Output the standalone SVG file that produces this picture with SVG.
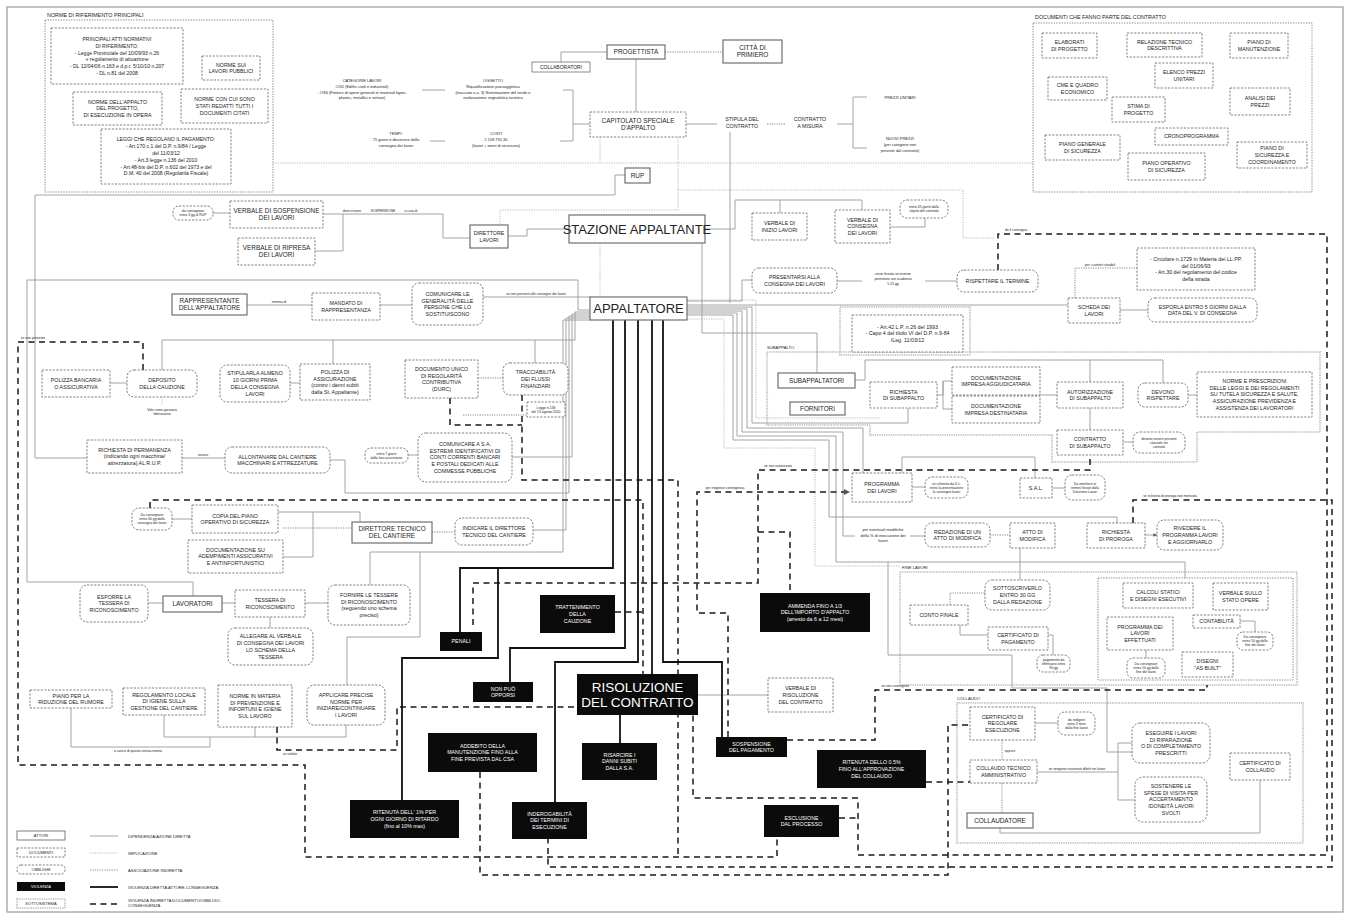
<svg xmlns="http://www.w3.org/2000/svg" width="1353" height="918" viewBox="0 0 1353 918">
<style>
text{font-family:'Liberation Sans',Arial,sans-serif;fill:#242424;text-anchor:middle;font-size:5.3px}
.sm{font-size:3.4px}
.ft{font-size:4px}
.lb{font-size:5.4px;text-anchor:start}
.ll{font-size:4.2px;text-anchor:start}
.w{fill:#fff}
.big{font-size:13px}
.act{font-size:6.4px}
.a{fill:#fff;stroke:#707070;stroke-width:1.2}
.d{fill:#fff;stroke:#4a4a4a;stroke-width:.7;stroke-dasharray:2.2 1.4}
.o{fill:#fff;stroke:#4a4a4a;stroke-width:.7;stroke-dasharray:2.2 1.4}
.v{fill:#0b0b0b}
.s{fill:none;stroke:#c8c8c8;stroke-width:2.2;stroke-dasharray:1 .8}
.g{fill:none;stroke:#555;stroke-width:.7;stroke-dasharray:1.3 1.3}
.c{fill:none;stroke:#9a9a9a;stroke-width:.9}
.i{fill:none;stroke:#b3b3b3;stroke-width:.9;stroke-dasharray:1.2 1.2}
.x{fill:none;stroke:#555;stroke-width:.7;stroke-dasharray:1.2 1.2}
.k{fill:none;stroke:#111;stroke-width:1.8}
.q{fill:none;stroke:#1a1a1a;stroke-width:1.5;stroke-dasharray:6 4.5}
</style>
<defs>
<marker id="ar" viewBox="0 0 6 6" refX="6" refY="3" markerWidth="4" markerHeight="4" orient="auto"><path d="M0,0L6,3L0,6z" fill="#555"/></marker>
</defs>
<rect x="7" y="7" width="1336" height="905" fill="#fff" stroke="#9a9a9a" stroke-width="1.2"/>

<g id="gruppi">
<text class="lb" x="47" y="17">NORME DI RIFERIMENTO PRINCIPALI</text>
<rect class="g" x="45" y="20" width="228" height="172"/>
<text class="lb" x="1035" y="19">DOCUMENTI CHE FANNO PARTE DEL CONTRATTO</text>
<rect class="g" x="1033" y="23" width="279" height="169"/>
<rect class="s" x="840" y="307" width="130" height="48"/>
<polygon class="s" points="767,352 1320,352 1320,432 1197,432 1197,462 1052,462 1052,435 870,435 870,425 767,425"/>
<text class="ll" x="767" y="349">SUBAPPALTO</text>
<rect class="s" x="900" y="572" width="397" height="113"/>
<rect class="g" x="1098" y="578" width="195" height="102"/>
<text class="ll" x="902" y="569">FINE LAVORI</text>
<rect class="s" x="957" y="703" width="346" height="140"/>
<text class="ll" x="957" y="700">COLLAUDO</text>
</g>

<g id="connettori">
<path class="i" d="M273,163H1033"/>
<path class="i" d="M600,137V163"/>
<path class="x" d="M665,52H723"/>
<path class="x" d="M767,124H785"/>
<path class="i" d="M678,137V210H500V225"/>
<path class="i" d="M678,190H963V238H995"/>
<path class="i" d="M600,243V297"/>
<path class="i" d="M162,397V405"/>
<path class="x" d="M478,378H503"/>
<path class="x" d="M463,415H527"/>
<path class="x" d="M432,532H455"/>
<path class="x" d="M283,528H352"/>
<path class="x" d="M1075,298V268H1137"/>
<path class="x" d="M990,535H1010"/>
<path class="x" d="M985,593H950V605"/>
<path class="x" d="M1002,740V760"/>
<path class="x" d="M1002,783V813"/>
<path class="i" d="M687,319H724V448H815V566H900"/>
<path class="i" d="M687,300H756V418H880"/>
<path class="c" d="M607,52H561V62"/>
<path class="c" d="M636,59V112"/>
<path class="c" d="M422,90H445"/>
<path class="c" d="M563,90H573V141H560M573,124H590"/>
<path class="c" d="M430,141H445"/>
<path class="c" d="M686,124H717"/>
<path class="c" d="M837,124H853M853,97V148M853,97H867M853,148H867"/>
<path class="c" d="M730,132V303"/>
<path class="c" d="M625,175H615V195H35V458H87"/>
<path class="c" d="M508,236H527V229H569"/>
<path class="c" d="M323,214H443V238H470"/>
<path class="c" d="M315,251H343V214"/>
<path class="c" d="M213,213H230"/>
<path class="c" d="M705,229H735V200H862V210M780,200V213"/>
<path class="c" d="M890,227H925V218"/>
<path class="c" d="M702,243V333H817V373"/>
<path class="c" d="M687,301H742V280H752"/>
<path class="c" d="M837,281H862M925,281H957"/>
<path class="c" d="M687,305H1068"/>
<path class="c" d="M1120,310H1148"/>
<path class="c" d="M247,305H312"/>
<path class="c" d="M380,305H412"/>
<path class="c" d="M483,297H590"/>
<path class="c" d="M193,596V582H27V280H578V310H590"/>
<path class="c" d="M590,312H575V340H162V370M333,340V364M535,340V363"/>
<path class="c" d="M290,383H300"/>
<path class="c" d="M110,383H127"/>
<path class="c" d="M590,314H572V457H512"/>
<path class="c" d="M408,455H418"/>
<path class="c" d="M182,458H225"/>
<path class="c" d="M590,316H569V493H345V460H330"/>
<path class="c" d="M590,318H566V530H533"/>
<path class="c" d="M278,512H313V557H283M313,512H360V522"/>
<path class="c" d="M172,519H192"/>
<path class="c" d="M590,320H563V552H370V585M420,552V637H347V685"/>
<path class="c" d="M148,603H163M222,603H235M305,603H328"/>
<path class="c" d="M270,617V628"/>
<path class="c" d="M71,708V747H210V737M164,715V737H346V725M255,727V737"/>
<path class="c" d="M698,695H768"/>
<path class="c" d="M687,307H752V423H908V408"/>
<path class="c" d="M687,309H747V428H863V473"/>
<path class="c" d="M687,311H742V432H843V536H855"/>
<path class="c" d="M687,313H737V436H836V562H1185V578M888,562V655H1012V688H1107V752H1132"/>
<path class="c" d="M687,315H733V440H829V517H1117V523"/>
<path class="c" d="M910,536H925"/>
<path class="c" d="M1020,548V580"/>
<path class="c" d="M912,487H925"/>
<path class="c" d="M902,473V457H1035V478"/>
<path class="c" d="M1052,488H1065"/>
<path class="c" d="M1145,535H1157" marker-end="url(#ar)"/>
<path class="c" d="M855,380H865V360H1163V383M1090,360V382"/>
<path class="c" d="M937,395H943V381H952M943,381V409H952"/>
<path class="c" d="M1040,395H1057"/>
<path class="c" d="M1090,408V430"/>
<path class="c" d="M1188,395H1197"/>
<path class="c" d="M1123,442H1133"/>
<path class="c" d="M960,625V635H988"/>
<path class="c" d="M1048,635H1053V655"/>
<path class="c" d="M1240,621H1255V632"/>
<path class="c" d="M1146,650V658"/>
<path class="c" d="M1035,723H1058"/>
<path class="c" d="M1037,772H1118V743H1132M1118,772V800H1135"/>
<path class="c" d="M1000,828V833H1260V780"/>
<path class="q" d="M522,395V480H678V857"/>
<path class="q" d="M150,508V500H643V674M615,612H643"/>
<path class="q" d="M473,625V583H758V470H1090V455"/>
<path class="q" d="M728,737V613H697V492H850" marker-end="url(#ar)"/>
<path class="q" d="M758,532H790V593"/>
<path class="q" d="M277,727V750H397V707H577"/>
<path class="q" d="M143,370V342H18V765H305V857H777V837"/>
<path class="q" d="M998,270V234H1327V855H858V798H693V715M839,818H858"/>
<path class="q" d="M1133,523V500H1332V867H548V839"/>
<path class="q" d="M480,772V875H948V725H970M926,782H970"/>
<path class="q" d="M787,740H875V690H1207V685"/>
<path class="q" d="M450,398V425H522"/>
<path class="k" d="M613,320V568H460V632"/>
<path class="k" d="M498,568V658H402V800"/>
<path class="k" d="M625,320V648H510V682"/>
<path class="k" d="M638,320V662H555V802"/>
<path class="k" d="M652,320V674"/>
<path class="k" d="M663,320V662H722V737"/>
<path class="k" d="M620,715V743"/>
<text class="sm" x="279" y="303">nomina di</text>
<text class="sm" x="536" y="295">se non presenti alle consegne dei lavori</text>
<text class="sm" x="352" y="212">deve essere</text>
<text class="sm" x="383" y="212">SOSPENSIONE</text>
<text class="sm" x="411" y="212">a cura di</text>
<text class="sm" x="203" y="456">ovvero</text>
<text class="sm" x="162" y="411"><tspan x="162">Vale come garanzia</tspan><tspan x="162" dy="4.2">fideiussoria</tspan></text>
<text class="sm" x="33" y="339">se non presente</text>
<text class="sm" x="290" y="755">se violate</text>
<text class="sm" x="138" y="752">a carico di questa stessa norma</text>
<text class="sm" x="893" y="275"><tspan x="893">viene fissato un termine</tspan><tspan x="893" dy="5">perentorio con scadenza</tspan><tspan x="893" dy="5">5-15 gg</tspan></text>
<text class="sm" x="1100" y="266">per i cantieri stradali</text>
<text class="sm" x="1016" y="231">da fi consegna</text>
<text class="sm" x="725" y="489">per esigenze contingenza</text>
<text class="sm" x="778" y="467">se non autorizzato</text>
<text class="sm" x="1170" y="497">se richiesta di proroga non motivata</text>
<text class="sm" x="895" y="687">se non consegnati</text>
<text class="sm" x="1010" y="752">oppure</text>
<text class="sm" x="1077" y="770">se vengono riscontrati difetti nei lavori</text>
<text class="ft" x="883" y="531"><tspan x="883">per eventuali modifiche</tspan><tspan x="883" dy="5.5">della % di esecuzione dei</tspan><tspan x="883" dy="5.5">lavori</tspan></text>
</g>

<g id="n-categorie"><text class="ft" x="362" y="82"><tspan x="362">CATEGORIE LAVORI</tspan><tspan x="362" dy="5.8">OG1 (Edifici civili e industriali)</tspan><tspan x="362" dy="5.8">- OS6 (Finiture di opere generali in materiali lignei,</tspan><tspan x="362" dy="5.8">plastici, metallici e vetrosi)</tspan></text></g>
<g id="n-oggetto"><text class="ft" x="493" y="82"><tspan x="493">OGGETTO</tspan><tspan x="493" dy="5.8">Riqualificazione paesaggistica</tspan><tspan x="493" dy="5.8">(tracciato a.a. 3) Sistemazione del verde e</tspan><tspan x="493" dy="5.8">realizzazione segnaletica turistica</tspan></text></g>
<g id="n-tempi"><text class="ft" x="396" y="135"><tspan x="396">TEMPI:</tspan><tspan x="396" dy="5.8">75 giorni e decorrere dalla</tspan><tspan x="396" dy="5.8">consegna dei lavori</tspan></text></g>
<g id="n-costi"><text class="ft" x="496" y="135"><tspan x="496">COSTI</tspan><tspan x="496" dy="5.8">€ 118.731,30</tspan><tspan x="496" dy="5.8">(lavori + oneri di sicurezza)</tspan></text></g>
<g id="n-stipula"><text x="742" y="121"><tspan x="742">STIPULA DEL</tspan><tspan x="742" dy="6.8">CONTRATTO</tspan></text></g>
<g id="n-misura"><text x="810" y="121"><tspan x="810">CONTRATTO</tspan><tspan x="810" dy="6.8">A MISURA</tspan></text></g>
<g id="n-prezzi"><text class="ft" x="900" y="99">PREZZI UNITARI</text></g>
<g id="n-nuovi"><text class="ft" x="900" y="140"><tspan x="900">NUOVI PREZZI</tspan><tspan x="900" dy="5.8">(per categorie non</tspan><tspan x="900" dy="5.8">previste dal contratto)</tspan></text></g>

<g id="n-atti"><rect class="d" x="51" y="28" width="132" height="56"/><text x="117" y="40.9" style="font-size:5.1px"><tspan x="117">PRINCIPALI ATTI NORMATIVI</tspan><tspan x="117" dy="6.8">DI RIFERIMENTO:</tspan><tspan x="117" dy="6.8">- Legge Provinciale del 10/09/93 n.26</tspan><tspan x="117" dy="6.8">+ regolamento di attuazione</tspan><tspan x="117" dy="6.8">- DL 12/04/06 n.163 e d.p.r. 5/10/10 n.207</tspan><tspan x="117" dy="6.8">- DL n.81 del 2008</tspan></text></g>
<g id="n-lavori-pubblici"><rect class="d" x="202" y="56" width="58" height="24"/><text x="231" y="66.5"><tspan x="231">NORME SUI</tspan><tspan x="231" dy="6.8">LAVORI PUBBLICI</tspan></text></g>
<g id="n-norme-appalto"><rect class="d" x="73" y="92" width="89" height="33"/><text x="117.5" y="103.6"><tspan x="117.5">NORME DELL'APPALTO</tspan><tspan x="117.5" dy="6.8">DEL PROGETTO,</tspan><tspan x="117.5" dy="6.8">DI ESECUZIONE IN OPERA</tspan></text></g>
<g id="n-norme-documenti"><rect class="d" x="181" y="89" width="87" height="34"/><text x="224.5" y="101.1"><tspan x="224.5">NORME CON CUI SONO</tspan><tspan x="224.5" dy="6.8">STATI REDATTI TUTTI I</tspan><tspan x="224.5" dy="6.8">DOCUMENTI CITATI</tspan></text></g>
<g id="n-leggi-pagamento"><rect class="d" x="101" y="129" width="130" height="55"/><text x="166" y="141.4" style="font-size:5.1px"><tspan x="166">LEGGI CHE REGOLANO IL PAGAMENTO:</tspan><tspan x="166" dy="6.8">- Art.170 c.1 del D.P. n.9/84 / Legge</tspan><tspan x="166" dy="6.8">del 11/03/12</tspan><tspan x="166" dy="6.8">- Art.3 legge n.136 del 2010</tspan><tspan x="166" dy="6.8">- Art.48-bis del D.P. n.602 del 1973 e del</tspan><tspan x="166" dy="6.8">D.M. 40 del 2008 (Regolarità Fiscale)</tspan></text></g>

<g id="n-elaborati"><rect class="d" x="1042" y="33" width="55" height="25"/><text x="1069.5" y="44"><tspan x="1069.5">ELABORATI</tspan><tspan x="1069.5" dy="6.8">DI PROGETTO</tspan></text></g>
<g id="n-relazione"><rect class="d" x="1127" y="33" width="75" height="24"/><text x="1164.5" y="43.5"><tspan x="1164.5">RELAZIONE TECNICO</tspan><tspan x="1164.5" dy="6.8">DESCRITTIVA</tspan></text></g>
<g id="n-manutenzione"><rect class="d" x="1230" y="33" width="58" height="25"/><text x="1259" y="44"><tspan x="1259">PIANO DI</tspan><tspan x="1259" dy="6.8">MANUTENZIONE</tspan></text></g>
<g id="n-elenco"><rect class="d" x="1155" y="63" width="58" height="25"/><text x="1184" y="74"><tspan x="1184">ELENCO PREZZI</tspan><tspan x="1184" dy="6.8">UNITARI</tspan></text></g>
<g id="n-cme"><rect class="d" x="1048" y="77" width="59" height="23"/><text x="1077.5" y="87"><tspan x="1077.5">CME E QUADRO</tspan><tspan x="1077.5" dy="6.8">ECONOMICO</tspan></text></g>
<g id="n-stima"><rect class="d" x="1112" y="97" width="53" height="25"/><text x="1138.5" y="108"><tspan x="1138.5">STIMA DI</tspan><tspan x="1138.5" dy="6.8">PROGETTO</tspan></text></g>
<g id="n-analisi"><rect class="d" x="1230" y="88" width="60" height="27"/><text x="1260" y="100"><tspan x="1260">ANALISI DEI</tspan><tspan x="1260" dy="6.8">PREZZI</tspan></text></g>
<g id="n-crono"><rect class="d" x="1155" y="128" width="73" height="17"/><text x="1191.5" y="138.4">CRONOPROGRAMMA</text></g>
<g id="n-pgs"><rect class="d" x="1045" y="135" width="75" height="25"/><text x="1082.5" y="146"><tspan x="1082.5">PIANO GENERALE</tspan><tspan x="1082.5" dy="6.8">DI SICUREZZA</tspan></text></g>
<g id="n-pos"><rect class="d" x="1128" y="153" width="77" height="27"/><text x="1166.5" y="165"><tspan x="1166.5">PIANO OPERATIVO</tspan><tspan x="1166.5" dy="6.8">DI SICUREZZA</tspan></text></g>
<g id="n-psc"><rect class="d" x="1237" y="142" width="70" height="26"/><text x="1272" y="150.1"><tspan x="1272">PIANO DI</tspan><tspan x="1272" dy="6.8">SICUREZZA E</tspan><tspan x="1272" dy="6.8">COORDINAMENTO</tspan></text></g>

<g id="n-progettista"><rect class="a" x="607" y="45" width="58" height="14"/><text class="act" x="636" y="54.3">PROGETTISTA</text></g>
<g id="n-collaboratori"><rect class="a" x="532" y="62" width="58" height="10" style="stroke-width:.8"/><text x="561" y="68.9" style="font-size:5px">COLLABORATORI</text></g>
<g id="n-citta"><rect class="a" x="723" y="40" width="59" height="23"/><text class="act" x="752.5" y="50"><tspan x="752.5">CITTÀ DI</tspan><tspan x="752.5" dy="7.2">PRIMIERO</tspan></text></g>
<g id="n-capitolato"><rect class="d" x="590" y="112" width="96" height="25"/><text class="act" x="638" y="123"><tspan x="638">CAPITOLATO SPECIALE</tspan><tspan x="638" dy="7.4">D'APPALTO</tspan></text></g>
<g id="n-rup"><rect class="a" x="625" y="168" width="25" height="15"/><text class="act" x="637.5" y="177.8">RUP</text></g>
<g id="n-stazione"><rect class="a" x="569" y="215" width="136" height="28"/><text class="big" x="637" y="233.7">STAZIONE APPALTANTE</text></g>
<g id="n-direttore-lavori"><rect class="a" x="470" y="225" width="38" height="23"/><text x="489" y="235"><tspan x="489">DIRETTORE</tspan><tspan x="489" dy="6.8">LAVORI</tspan></text></g>
<g id="n-verbale-sosp"><rect class="d" x="230" y="201" width="93" height="27"/><text class="act" x="276.5" y="212.6"><tspan x="276.5">VERBALE DI SOSPENSIONE</tspan><tspan x="276.5" dy="7.2">DEI LAVORI</tspan></text></g>
<g id="n-oval-rup"><rect class="o" x="173" y="206" width="40" height="14" rx="6"/><text class="sm" x="193" y="212.1"><tspan x="193">da consegnare</tspan><tspan x="193" dy="4.2">entro 3 gg al RUP</tspan></text></g>
<g id="n-verbale-ripresa"><rect class="d" x="238" y="238" width="77" height="27"/><text class="act" x="276.5" y="249.6"><tspan x="276.5">VERBALE DI RIPRESA</tspan><tspan x="276.5" dy="7.2">DEI LAVORI</tspan></text></g>
<g id="n-verbale-inizio"><rect class="d" x="752" y="213" width="55" height="27"/><text x="779.5" y="225"><tspan x="779.5">VERBALE DI</tspan><tspan x="779.5" dy="6.8">INIZIO LAVORI</tspan></text></g>
<g id="n-verbale-consegna"><rect class="d" x="835" y="210" width="55" height="33"/><text x="862.5" y="221.6"><tspan x="862.5">VERBALE DI</tspan><tspan x="862.5" dy="6.8">CONSEGNA</tspan><tspan x="862.5" dy="6.8">DEI LAVORI</tspan></text></g>
<g id="n-oval-45"><rect class="o" x="900" y="200" width="48" height="18" rx="7"/><text class="sm" x="924" y="208.1"><tspan x="924">entro 45 giorni dalla</tspan><tspan x="924" dy="4.2">stipula del contratto</tspan></text></g>
<g id="n-presentarsi"><rect class="o" x="752" y="268" width="85" height="25" rx="7"/><text x="794.5" y="279"><tspan x="794.5">PRESENTARSI ALLA</tspan><tspan x="794.5" dy="6.8">CONSEGNA DEI LAVORI</tspan></text></g>
<g id="n-rispettare"><rect class="o" x="957" y="270" width="81" height="22" rx="7"/><text x="997.5" y="282.9">RISPETTARE IL TERMINE</text></g>
<g id="n-circolare"><rect class="d" x="1137" y="248" width="118" height="42"/><text x="1196" y="260.7"><tspan x="1196">- Circolare n.1729 in Materia dei LL.PP.</tspan><tspan x="1196" dy="6.8">del 01/06/93</tspan><tspan x="1196" dy="6.8">- Art.30 del regolamento del codice</tspan><tspan x="1196" dy="6.8">della strada</tspan></text></g>
<g id="n-scheda"><rect class="d" x="1068" y="298" width="52" height="25"/><text x="1094" y="309"><tspan x="1094">SCHEDA DEI</tspan><tspan x="1094" dy="6.8">LAVORI</tspan></text></g>
<g id="n-esporla"><rect class="o" x="1148" y="298" width="109" height="24" rx="7"/><text x="1202.5" y="308.5"><tspan x="1202.5">ESPORLA ENTRO 5 GIORNI DALLA</tspan><tspan x="1202.5" dy="6.8">DATA DEL V. DI CONSEGNA</tspan></text></g>

<g id="n-rappresentante"><rect class="a" x="172" y="294" width="75" height="21"/><text class="act" x="209.5" y="302.8"><tspan x="209.5">RAPPRESENTANTE</tspan><tspan x="209.5" dy="7.2">DELL'APPALTATORE</tspan></text></g>
<g id="n-mandato"><rect class="d" x="312" y="293" width="68" height="27"/><text x="346" y="305"><tspan x="346">MANDATO DI</tspan><tspan x="346" dy="6.8">RAPPRESENTANZA</tspan></text></g>
<g id="n-comunicare-gen"><rect class="o" x="412" y="283" width="71" height="42" rx="7"/><text x="447.5" y="295.7"><tspan x="447.5">COMUNICARE LE</tspan><tspan x="447.5" dy="6.8">GENERALITÀ DELLE</tspan><tspan x="447.5" dy="6.8">PERSONE CHE LO</tspan><tspan x="447.5" dy="6.8">SOSTITUISCONO</tspan></text></g>
<g id="n-appaltatore"><rect class="a" x="590" y="297" width="97" height="23"/><text class="big" x="638.5" y="313.3">APPALTATORE</text></g>
<g id="n-polizza-bancaria"><rect class="d" x="42" y="370" width="68" height="27"/><text x="76" y="382"><tspan x="76">POLIZZA BANCARIA</tspan><tspan x="76" dy="6.8">O ASSICURATIVA</tspan></text></g>
<g id="n-deposito"><rect class="o" x="127" y="370" width="70" height="27" rx="7"/><text x="162" y="382"><tspan x="162">DEPOSITO</tspan><tspan x="162" dy="6.8">DELLA CAUZIONE</tspan></text></g>
<g id="n-stipularla"><rect class="o" x="220" y="365" width="70" height="37" rx="7"/><text x="255" y="375.2"><tspan x="255">STIPULARLA ALMENO</tspan><tspan x="255" dy="6.8">10 GIORNI PRIMA</tspan><tspan x="255" dy="6.8">DELLA CONSEGNA</tspan><tspan x="255" dy="6.8">LAVORI</tspan></text></g>
<g id="n-polizza-ass"><rect class="d" x="300" y="364" width="70" height="36"/><text x="335" y="373.7"><tspan x="335">POLIZZA DI</tspan><tspan x="335" dy="6.8">ASSICURAZIONE</tspan><tspan x="335" dy="6.8">(contro i danni subiti</tspan><tspan x="335" dy="6.8">dalla St. Appaltante)</tspan></text></g>
<g id="n-durc"><rect class="d" x="405" y="360" width="73" height="38"/><text x="441.5" y="370.7"><tspan x="441.5">DOCUMENTO UNICO</tspan><tspan x="441.5" dy="6.8">DI REGOLARITÀ</tspan><tspan x="441.5" dy="6.8">CONTRIBUTIVA</tspan><tspan x="441.5" dy="6.8">(DURC)</tspan></text></g>
<g id="n-tracciabilita"><rect class="o" x="503" y="363" width="65" height="32" rx="7"/><text x="535.5" y="374.1"><tspan x="535.5">TRACCIABILITÀ</tspan><tspan x="535.5" dy="6.8">DEI FLUSSI</tspan><tspan x="535.5" dy="6.8">FINANZIARI</tspan></text></g>
<g id="n-legge136"><rect class="d" x="527" y="402" width="38" height="15"/><text class="sm" x="546" y="408.6"><tspan x="546">Legge n.136</tspan><tspan x="546" dy="4.2">del 13 agosto 2010</tspan></text></g>
<g id="n-richiesta-perm"><rect class="d" x="87" y="440" width="95" height="33"/><text x="134.5" y="451.6"><tspan x="134.5">RICHIESTA DI PERMANENZA</tspan><tspan x="134.5" dy="6.8">(indicando ogni macchina/</tspan><tspan x="134.5" dy="6.8">attrezzatura) AL R.U.P.</tspan></text></g>
<g id="n-allontanare"><rect class="o" x="225" y="447" width="105" height="26" rx="7"/><text x="277.5" y="458.5"><tspan x="277.5">ALLONTANARE DAL CANTIERE</tspan><tspan x="277.5" dy="6.8">MACCHINARI E ATTREZZATURE</tspan></text></g>
<g id="n-oval-7"><rect class="o" x="365" y="448" width="43" height="15" rx="6"/><text class="sm" x="386.5" y="454.6"><tspan x="386.5">entro 7 giorni</tspan><tspan x="386.5" dy="4.2">dalla loro accensione</tspan></text></g>
<g id="n-comunicare-sa"><rect class="o" x="418" y="433" width="94" height="49" rx="8"/><text x="465" y="445.8"><tspan x="465">COMUNICARE A S.A.</tspan><tspan x="465" dy="6.8">ESTREMI IDENTIFICATIVI DI</tspan><tspan x="465" dy="6.8">CONTI CORRENTI BANCARI</tspan><tspan x="465" dy="6.8">E POSTALI DEDICATI ALLE</tspan><tspan x="465" dy="6.8">COMMESSE PUBBLICHE</tspan></text></g>
<g id="n-oval-30"><rect class="o" x="132" y="508" width="40" height="22" rx="7"/><text class="sm" x="152" y="516"><tspan x="152">Da consegnare</tspan><tspan x="152" dy="4.2">entro 30 gg dalla</tspan><tspan x="152" dy="4.2">consegna dei lavori</tspan></text></g>
<g id="n-copia-pos"><rect class="d" x="192" y="505" width="86" height="28"/><text x="235" y="517.5"><tspan x="235">COPIA DEL PIANO</tspan><tspan x="235" dy="6.8">OPERATIVO DI SICUREZZA</tspan></text></g>
<g id="n-documentazione"><rect class="d" x="188" y="540" width="95" height="33"/><text x="235.5" y="551.6"><tspan x="235.5">DOCUMENTAZIONE SU</tspan><tspan x="235.5" dy="6.8">ADEMPIMENTI ASSICURATIVI</tspan><tspan x="235.5" dy="6.8">E ANTINFORTUNISTICI</tspan></text></g>
<g id="n-direttore-tecnico"><rect class="a" x="352" y="522" width="80" height="21"/><text class="act" x="392" y="530.8"><tspan x="392">DIRETTORE TECNICO</tspan><tspan x="392" dy="7.2">DEL CANTIERE</tspan></text></g>
<g id="n-indicare"><rect class="o" x="455" y="518" width="78" height="27" rx="7"/><text x="494" y="530"><tspan x="494">INDICARE IL DIRETTORE</tspan><tspan x="494" dy="6.8">TECNICO DEL CANTIERE</tspan></text></g>
<g id="n-esporre"><rect class="o" x="80" y="585" width="68" height="37" rx="7"/><text x="114" y="598.6"><tspan x="114">ESPORRE LA</tspan><tspan x="114" dy="6.8">TESSERA DI</tspan><tspan x="114" dy="6.8">RICONOSCIMENTO</tspan></text></g>
<g id="n-lavoratori"><rect class="a" x="163" y="596" width="59" height="16"/><text class="act" x="192.5" y="606.3">LAVORATORI</text></g>
<g id="n-tessera"><rect class="d" x="235" y="590" width="70" height="27"/><text x="270" y="602"><tspan x="270">TESSERA DI</tspan><tspan x="270" dy="6.8">RICONOSCIMENTO</tspan></text></g>
<g id="n-fornire"><rect class="o" x="328" y="585" width="82" height="40" rx="7"/><text x="369" y="596.7"><tspan x="369">FORNIRE LE TESSERE</tspan><tspan x="369" dy="6.8">DI RICONOSCIMENTO</tspan><tspan x="369" dy="6.8">(seguendo uno schema</tspan><tspan x="369" dy="6.8">preciso)</tspan></text></g>
<g id="n-allegare"><rect class="o" x="228" y="628" width="85" height="37" rx="7"/><text x="270.5" y="638.2"><tspan x="270.5">ALLEGARE AL VERBALE</tspan><tspan x="270.5" dy="6.8">DI CONSEGNA DEI LAVORI</tspan><tspan x="270.5" dy="6.8">LO SCHEMA DELLA</tspan><tspan x="270.5" dy="6.8">TESSERA</tspan></text></g>
<g id="n-rumore"><rect class="d" x="30" y="690" width="82" height="18"/><text x="71" y="697.5"><tspan x="71">PIANO PER LA</tspan><tspan x="71" dy="6.8">RIDUZIONE DEL RUMORE</tspan></text></g>
<g id="n-regolamento"><rect class="d" x="123" y="688" width="82" height="27"/><text x="164" y="696.6"><tspan x="164">REGOLAMENTO LOCALE</tspan><tspan x="164" dy="6.8">DI IGIENE SULLA</tspan><tspan x="164" dy="6.8">GESTIONE DEL CANTIERE</tspan></text></g>
<g id="n-norme-materia"><rect class="d" x="218" y="685" width="74" height="42"/><text x="255" y="697.7"><tspan x="255">NORME IN MATERIA</tspan><tspan x="255" dy="6.8">DI PREVENZIONE E</tspan><tspan x="255" dy="6.8">INFORTUNI E IGIENE</tspan><tspan x="255" dy="6.8">SUL LAVORO</tspan></text></g>
<g id="n-applicare"><rect class="o" x="307" y="685" width="78" height="40" rx="7"/><text x="346" y="696.7"><tspan x="346">APPLICARE PRECISE</tspan><tspan x="346" dy="6.8">NORME PER</tspan><tspan x="346" dy="6.8">INIZIARE/CONTINUARE</tspan><tspan x="346" dy="6.8">I LAVORI</tspan></text></g>

<g id="n-penali"><rect class="v" x="440" y="632" width="42" height="19"/><text class="w" x="461" y="643.4">PENALI</text></g>
<g id="n-trattenimento"><rect class="v" x="540" y="595" width="75" height="38"/><text class="w" x="577.5" y="609.1"><tspan x="577.5">TRATTENIMENTO</tspan><tspan x="577.5" dy="6.8">DELLA</tspan><tspan x="577.5" dy="6.8">CAUZIONE</tspan></text></g>
<g id="n-non-puo"><rect class="v" x="473" y="682" width="60" height="20"/><text class="w" x="503" y="690.5"><tspan x="503">NON PUÒ</tspan><tspan x="503" dy="6.8">OPPORSI</tspan></text></g>
<g id="n-risoluzione"><rect class="v" x="577" y="674" width="121" height="41"/><text class="w" x="637.5" y="691.5" style="font-size:13.5px"><tspan x="637.5">RISOLUZIONE</tspan><tspan x="637.5" dy="15.5">DEL CONTRATTO</tspan></text></g>
<g id="n-addebito"><rect class="v" x="428" y="733" width="109" height="39"/><text class="w" x="482.5" y="747.6"><tspan x="482.5">ADDEBITO DELLA</tspan><tspan x="482.5" dy="6.8">MANUTENZIONE FINO ALLA</tspan><tspan x="482.5" dy="6.8">FINE PREVISTA DAL CSA</tspan></text></g>
<g id="n-risarcire"><rect class="v" x="582" y="743" width="75" height="37"/><text class="w" x="619.5" y="756.6"><tspan x="619.5">RISARCIRE I</tspan><tspan x="619.5" dy="6.8">DANNI SUBITI</tspan><tspan x="619.5" dy="6.8">DALLA S.A.</tspan></text></g>
<g id="n-ritenuta-1"><rect class="v" x="350" y="800" width="109" height="38"/><text class="w" x="404.5" y="814.1"><tspan x="404.5">RITENUTA DELL' 1% PER</tspan><tspan x="404.5" dy="6.8">OGNI GIORNO DI RITARDO</tspan><tspan x="404.5" dy="6.8">(fino al 10% max)</tspan></text></g>
<g id="n-inderogabilita"><rect class="v" x="512" y="802" width="75" height="37"/><text class="w" x="549.5" y="815.6"><tspan x="549.5">INDEROGABILITÀ</tspan><tspan x="549.5" dy="6.8">DEI TERMINI DI</tspan><tspan x="549.5" dy="6.8">ESECUZIONE</tspan></text></g>
<g id="n-ammenda"><rect class="v" x="760" y="593" width="110" height="39"/><text class="w" x="815" y="607.6"><tspan x="815">AMMENDA FINO A 1/3</tspan><tspan x="815" dy="6.8">DELL'IMPORTO D'APPALTO</tspan><tspan x="815" dy="6.8">(arresto da 6 a 12 mesi)</tspan></text></g>
<g id="n-sospensione"><rect class="v" x="716" y="737" width="71" height="20"/><text class="w" x="751.5" y="745.5"><tspan x="751.5">SOSPENSIONE</tspan><tspan x="751.5" dy="6.8">DEL PAGAMENTO</tspan></text></g>
<g id="n-ritenuta-05"><rect class="v" x="817" y="750" width="109" height="38"/><text class="w" x="871.5" y="764.1"><tspan x="871.5">RITENUTA DELLO 0.5%</tspan><tspan x="871.5" dy="6.8">FINO ALL'APPROVAZIONE</tspan><tspan x="871.5" dy="6.8">DEL COLLAUDO</tspan></text></g>
<g id="n-esclusione"><rect class="v" x="764" y="805" width="75" height="32"/><text class="w" x="801.5" y="819.5"><tspan x="801.5">ESCLUSIONE</tspan><tspan x="801.5" dy="6.8">DAL PROCESSO</tspan></text></g>
<g id="n-verbale-risoluzione"><rect class="d" x="768" y="678" width="65" height="34"/><text x="800.5" y="690.1"><tspan x="800.5">VERBALE DI</tspan><tspan x="800.5" dy="6.8">RISOLUZIONE</tspan><tspan x="800.5" dy="6.8">DEL CONTRATTO</tspan></text></g>

<g id="n-art42"><rect class="d" x="852" y="315" width="111" height="37"/><text x="907.5" y="328.6"><tspan x="907.5">- Art.42 L.P. n.26 del 1993</tspan><tspan x="907.5" dy="6.8">- Capo 4 del titolo VI del D.P. n.9-84</tspan><tspan x="907.5" dy="6.8">/Leg. 11/03/12</tspan></text></g>
<g id="n-subappaltatori"><rect class="a" x="778" y="373" width="77" height="15"/><text class="act" x="816.5" y="382.8">SUBAPPALTATORI</text></g>
<g id="n-fornitori"><rect class="a" x="790" y="402" width="55" height="13"/><text class="act" x="817.5" y="410.8">FORNITORI</text></g>
<g id="n-richiesta-sub"><rect class="d" x="870" y="382" width="67" height="26"/><text x="903.5" y="393.5"><tspan x="903.5">RICHIESTA</tspan><tspan x="903.5" dy="6.8">DI SUBAPPALTO</tspan></text></g>
<g id="n-doc-agg"><rect class="d" x="952" y="367" width="88" height="28"/><text x="996" y="379.5"><tspan x="996">DOCUMENTAZIONE</tspan><tspan x="996" dy="6.8">IMPRESA AGGIUDICATARIA</tspan></text></g>
<g id="n-doc-dest"><rect class="d" x="952" y="396" width="88" height="27"/><text x="996" y="408"><tspan x="996">DOCUMENTAZIONE</tspan><tspan x="996" dy="6.8">IMPRESA DESTINATARIA</tspan></text></g>
<g id="n-autorizzazione"><rect class="d" x="1057" y="382" width="66" height="26"/><text x="1090" y="393.5"><tspan x="1090">AUTORIZZAZIONE</tspan><tspan x="1090" dy="6.8">DI SUBAPPALTO</tspan></text></g>
<g id="n-devono"><rect class="o" x="1138" y="383" width="50" height="24" rx="7"/><text x="1163" y="393.5"><tspan x="1163">DEVONO</tspan><tspan x="1163" dy="6.8">RISPETTARE</tspan></text></g>
<g id="n-norme-prescrizioni"><rect class="d" x="1197" y="372" width="115" height="45"/><text x="1254.5" y="382.8"><tspan x="1254.5">NORME E PRESCRIZIONI</tspan><tspan x="1254.5" dy="6.8">DELLE LEGGI E DEI REGOLAMENTI</tspan><tspan x="1254.5" dy="6.8">SU TUTELA SICUREZZA E SALUTE,</tspan><tspan x="1254.5" dy="6.8">ASSICURAZIONE PREVIDENZA E</tspan><tspan x="1254.5" dy="6.8">ASSISTENZA DEI LAVORATORI</tspan></text></g>
<g id="n-contratto-sub"><rect class="d" x="1057" y="430" width="66" height="25"/><text x="1090" y="441"><tspan x="1090">CONTRATTO</tspan><tspan x="1090" dy="6.8">DI SUBAPPALTO</tspan></text></g>
<g id="n-oval-clausole"><rect class="o" x="1133" y="432" width="52" height="21" rx="7"/><text class="sm" x="1159" y="439.5"><tspan x="1159">devono essere presenti</tspan><tspan x="1159" dy="4.2">clausole nei</tspan><tspan x="1159" dy="4.2">contratti</tspan></text></g>
<g id="n-programma"><rect class="d" x="852" y="473" width="60" height="29"/><text x="882" y="486"><tspan x="882">PROGRAMMA</tspan><tspan x="882" dy="6.8">DEI LAVORI</tspan></text></g>
<g id="n-oval-dl"><rect class="o" x="925" y="477" width="43" height="21" rx="7"/><text class="sm" x="946.5" y="484.5"><tspan x="946.5">se richiesto da D.L.</tspan><tspan x="946.5" dy="4.2">entro la presentazione</tspan><tspan x="946.5" dy="4.2">la consegna lavori</tspan></text></g>
<g id="n-sal"><rect class="d" x="1020" y="478" width="32" height="20"/><text x="1036" y="489.9">S.A.L.</text></g>
<g id="n-oval-sal"><rect class="o" x="1065" y="475" width="40" height="25" rx="7"/><text class="sm" x="1085" y="484.5"><tspan x="1085">Da emettere ai</tspan><tspan x="1085" dy="4.2">termini fissati dalla</tspan><tspan x="1085" dy="4.2">Direzione Lavori</tspan></text></g>
<g id="n-redazione"><rect class="o" x="925" y="523" width="65" height="24" rx="7"/><text x="957.5" y="533.5"><tspan x="957.5">REDAZIONE DI UN</tspan><tspan x="957.5" dy="6.8">ATTO DI MODIFICA</tspan></text></g>
<g id="n-atto"><rect class="d" x="1010" y="523" width="45" height="25"/><text x="1032.5" y="534"><tspan x="1032.5">ATTO DI</tspan><tspan x="1032.5" dy="6.8">MODIFICA</tspan></text></g>
<g id="n-proroga"><rect class="d" x="1087" y="523" width="58" height="25"/><text x="1116" y="534"><tspan x="1116">RICHIESTA</tspan><tspan x="1116" dy="6.8">DI PROROGA</tspan></text></g>
<g id="n-rivedere"><rect class="o" x="1157" y="520" width="66" height="30" rx="7"/><text x="1190" y="530.1"><tspan x="1190">RIVEDERE IL</tspan><tspan x="1190" dy="6.8">PROGRAMMA LAVORI</tspan><tspan x="1190" dy="6.8">E AGGIORNARLO</tspan></text></g>

<g id="n-sottoscriverlo"><rect class="o" x="985" y="580" width="65" height="30" rx="7"/><text x="1017.5" y="590.1"><tspan x="1017.5">SOTTOSCRIVERLO</tspan><tspan x="1017.5" dy="6.8">ENTRO 30 GG</tspan><tspan x="1017.5" dy="6.8">DALLA REDAZIONE</tspan></text></g>
<g id="n-conto-finale"><rect class="d" x="910" y="605" width="58" height="20"/><text x="939" y="616.9">CONTO FINALE</text></g>
<g id="n-cert-pagamento"><rect class="d" x="988" y="627" width="60" height="23"/><text x="1018" y="637"><tspan x="1018">CERTIFICATO DI</tspan><tspan x="1018" dy="6.8">PAGAMENTO</tspan></text></g>
<g id="n-oval-pag"><rect class="o" x="1037" y="655" width="33" height="17" rx="6"/><text class="sm" x="1053.5" y="660.5"><tspan x="1053.5">pagamento da</tspan><tspan x="1053.5" dy="4.2">effettuarsi entro</tspan><tspan x="1053.5" dy="4.2">90 gg</tspan></text></g>
<g id="n-calcoli"><rect class="d" x="1123" y="583" width="70" height="25"/><text x="1158" y="594"><tspan x="1158">CALCOLI STATICI</tspan><tspan x="1158" dy="6.8">E DISEGNI ESECUTIVI</tspan></text></g>
<g id="n-verbale-stato"><rect class="d" x="1213" y="583" width="55" height="27"/><text x="1240.5" y="595"><tspan x="1240.5">VERBALE SULLO</tspan><tspan x="1240.5" dy="6.8">STATO OPERE</tspan></text></g>
<g id="n-programma-eff"><rect class="d" x="1107" y="617" width="66" height="33"/><text x="1140" y="628.6"><tspan x="1140">PROGRAMMA DEI</tspan><tspan x="1140" dy="6.8">LAVORI</tspan><tspan x="1140" dy="6.8">EFFETTUATI</tspan></text></g>
<g id="n-contabilita"><rect class="d" x="1193" y="615" width="47" height="13"/><text x="1216.5" y="623.4">CONTABILITÀ</text></g>
<g id="n-oval-cont"><rect class="o" x="1237" y="632" width="36" height="18" rx="6"/><text class="sm" x="1255" y="638"><tspan x="1255">Da consegnare</tspan><tspan x="1255" dy="4.2">entro 10 gg dalla</tspan><tspan x="1255" dy="4.2">fine dei lavori</tspan></text></g>
<g id="n-oval-prog"><rect class="o" x="1127" y="658" width="38" height="20" rx="6"/><text class="sm" x="1146" y="665"><tspan x="1146">Da consegnare</tspan><tspan x="1146" dy="4.2">entro 10 gg dalla</tspan><tspan x="1146" dy="4.2">fine dei lavori</tspan></text></g>
<g id="n-disegni"><rect class="d" x="1182" y="652" width="51" height="25"/><text x="1207.5" y="663"><tspan x="1207.5">DISEGNI</tspan><tspan x="1207.5" dy="6.8">"AS BUILT"</tspan></text></g>

<g id="n-cert-regolare"><rect class="d" x="970" y="707" width="65" height="33"/><text x="1002.5" y="718.6"><tspan x="1002.5">CERTIFICATO DI</tspan><tspan x="1002.5" dy="6.8">REGOLARE</tspan><tspan x="1002.5" dy="6.8">ESECUZIONE</tspan></text></g>
<g id="n-oval-3mesi"><rect class="o" x="1058" y="712" width="37" height="23" rx="7"/><text class="sm" x="1076.5" y="720.5"><tspan x="1076.5">da redigere</tspan><tspan x="1076.5" dy="4.2">entro 3 mesi</tspan><tspan x="1076.5" dy="4.2">dalla fine lavori</tspan></text></g>
<g id="n-collaudo-tecnico"><rect class="d" x="970" y="760" width="67" height="23"/><text x="1003.5" y="770"><tspan x="1003.5">COLLAUDO TECNICO</tspan><tspan x="1003.5" dy="6.8">AMMINISTRATIVO</tspan></text></g>
<g id="n-eseguire"><rect class="o" x="1132" y="723" width="78" height="40" rx="8"/><text x="1171" y="734.7"><tspan x="1171">ESEGUIRE I LAVORI</tspan><tspan x="1171" dy="6.8">DI RIPARAZIONE</tspan><tspan x="1171" dy="6.8">O DI COMPLETAMENTO</tspan><tspan x="1171" dy="6.8">PRESCRITTI</tspan></text></g>
<g id="n-sostenere"><rect class="o" x="1135" y="777" width="72" height="45" rx="8"/><text x="1171" y="787.8"><tspan x="1171">SOSTENERE LE</tspan><tspan x="1171" dy="6.8">SPESE DI VISITA PER</tspan><tspan x="1171" dy="6.8">ACCERTAMENTO</tspan><tspan x="1171" dy="6.8">IDONEITÀ LAVORI</tspan><tspan x="1171" dy="6.8">SVOLTI</tspan></text></g>
<g id="n-cert-collaudo"><rect class="d" x="1230" y="753" width="60" height="27"/><text x="1260" y="765"><tspan x="1260">CERTIFICATO DI</tspan><tspan x="1260" dy="6.8">COLLAUDO</tspan></text></g>
<g id="n-collaudatore"><rect class="a" x="967" y="813" width="66" height="15"/><text class="act" x="1000" y="822.8">COLLAUDATORE</text></g>

<g id="legenda">
<rect class="a" x="17" y="831" width="48" height="9" style="stroke-width:.9"/><text class="ft" x="41" y="837">ATTORI</text>
<rect class="d" x="17" y="848" width="48" height="9"/><text class="ft" x="41" y="854">DOCUMENTI</text>
<rect class="o" x="17" y="865" width="48" height="9" rx="4"/><text class="ft" x="41" y="871">OBBLIGHI</text>
<rect class="v" x="17" y="882" width="48" height="9"/><text class="ft w" x="41" y="888">VIOLENZA</text>
<rect class="s" x="17" y="899" width="48" height="9"/><text class="ft" x="41" y="905">SOTTOSISTEMA</text>
<path class="c" d="M90,836H118"/><text class="ll" x="128" y="837.5">DIPENDENZA/AZIONE DIRETTA</text>
<path class="i" d="M90,853H118"/><text class="ll" x="128" y="854.5">IMPLICAZIONE</text>
<path class="x" d="M90,870H118"/><text class="ll" x="128" y="871.5">ASSOCIAZIONE INDIRETTA</text>
<path class="k" d="M90,887H118"/><text class="ll" x="128" y="888.5">VIOLENZA DIRETTA ATTORE-CONSEGUENZA</text>
<path class="q" d="M90,904H118"/><text class="ll" x="128" y="902"><tspan x="128">VIOLENZA INDIRETTA DOCUMENTO/OBBLIGO-</tspan><tspan x="128" dy="5">CONSEGUENZA</tspan></text>
</g>
</svg>
